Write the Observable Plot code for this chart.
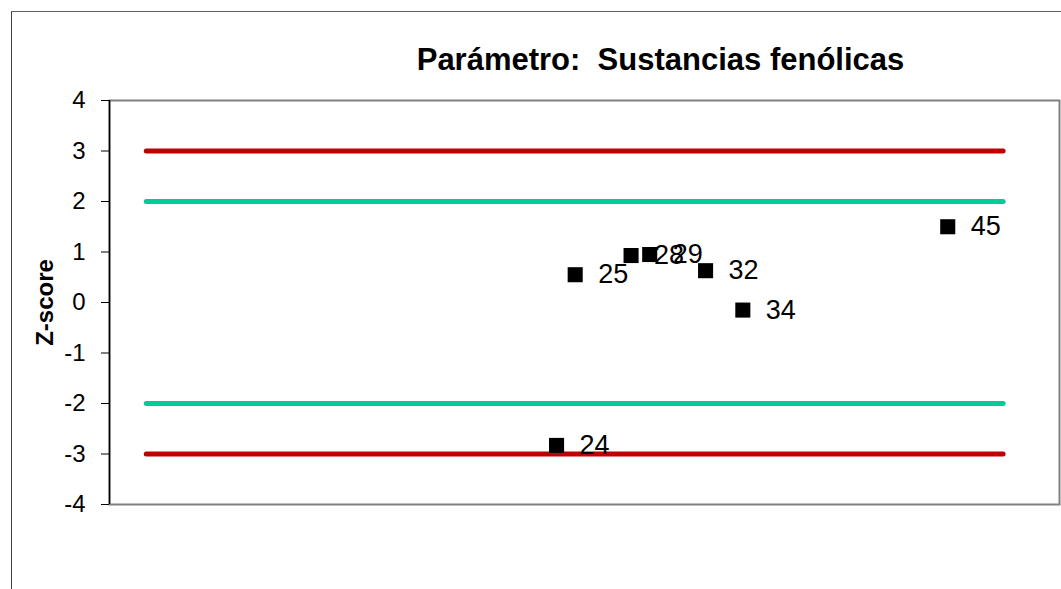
<!DOCTYPE html>
<html>
<head>
<meta charset="utf-8">
<script src="https://cdn.jsdelivr.net/npm/d3@7"></script>
<script src="https://cdn.jsdelivr.net/npm/@observablehq/plot@0.6"></script>
<style>
  html, body { margin: 0; padding: 0; background: #fff; overflow: hidden; }
  #wrap { position: relative; width: 1061px; height: 589px; }
  #outer { position: absolute; left: 11px; top: 11px; width: 1200px; height: 700px;
           border-left: 1.5px solid #404040; border-top: 1.5px solid #606060; }
  #chart { position: absolute; left: 0; top: 0; }
  svg { font-family: "Liberation Sans", Arial, sans-serif; }
</style>
</head>
<body>
<div id="wrap"><div id="outer"></div><div id="chart"></div></div>
<script>
// Laboratory codes (x position) and their z-scores
const labs = [24, 25, 28, 29, 32, 34, 45];
const zScores = [-2.83, 0.55, 0.93, 0.95, 0.63, -0.15, 1.50];
const yTicks = [-4, -3, -2, -1, 0, 1, 2, 3, 4];
const limitLevels = [3, 2, -2, -3];
const limitColors = ["#C00000", "#00CC99", "#00CC99", "#C00000"];
const limitStart = 2, limitEnd = 48;
const titleText = "Parámetro:  Sustancias fenólicas";
const yLabelText = "Z-score";

const points = labs.map((lab, i) => ({lab, z: zScores[i], label: String(lab)}));
const limits = limitLevels.map((v, i) => ({v, color: limitColors[i], x1: limitStart, x2: limitEnd}));

const chart = Plot.plot({
  width: 1061,
  height: 589,
  marginLeft: 109,
  marginRight: 2,
  marginTop: 100,
  marginBottom: 85,
  style: {fontFamily: "'Liberation Sans', Arial, sans-serif", background: "transparent"},
  x: {domain: [0, 51], axis: null},
  y: {domain: [-4, 4]},
  marks: [
    Plot.frame({stroke: "#808080", strokeWidth: 2}),
    Plot.ruleX([0], {stroke: "#000", strokeWidth: 1.5}),
    Plot.axisY({ticks: yTicks, tickSize: 8, tickPadding: 16, tickFormat: d => String(d).replace("\u2212", "-"),
                fontSize: 24, label: null, stroke: "#000"}),
    Plot.ruleY(limits, {y: "v", x1: "x1", x2: "x2", stroke: d => d.color, strokeWidth: 5, strokeLinecap: "round"}),
    Plot.dot(points, {x: "lab", y: "z", symbol: "square", r: 8.5, fill: "#000", stroke: null}),
    Plot.text(points, {x: "lab", y: "z", text: "label", dx: 23, textAnchor: "start", lineAnchor: "middle",
                       fontSize: 27, fill: "#000"}),
    Plot.text([titleText], {frameAnchor: "top", dx: 76, dy: -40, lineAnchor: "middle", fontSize: 31,
                            fontWeight: "bold", fill: "#000"}),
    Plot.text([yLabelText], {frameAnchor: "left", dx: -64, rotate: -90, lineAnchor: "middle", textAnchor: "middle",
                             fontSize: 24, fontWeight: "bold", fill: "#000"})
  ]
});
document.getElementById("chart").appendChild(chart);
</script>
</body>
</html>
